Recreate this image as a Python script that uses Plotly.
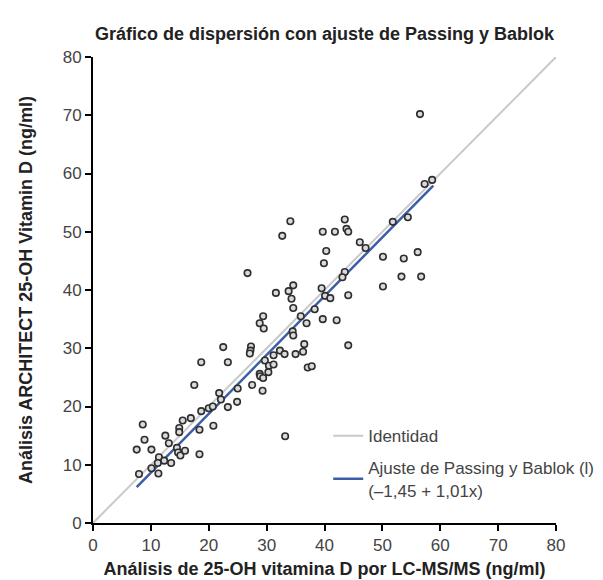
import plotly.graph_objects as go

# Measured data: LC-MS/MS (x) vs ARCHITECT (y), ng/ml
lcms = [18.7, 17.5, 8.6, 8.9, 7.55, 10.1, 12.5, 13.1, 15.5, 16.9, 14.9, 14.9, 18.7, 18.4, 18.4,
        20.0, 20.7, 20.8, 7.95, 10.1, 11.3, 11.4, 11.2, 12.3, 13.5, 14.5, 14.7, 15.1, 15.9,
        32.7, 26.7, 31.6, 33.8, 34.6, 34.3, 34.6, 29.4, 28.8, 29.5, 35.9, 36.9, 34.5, 34.6,
        36.5, 36.3, 35.0, 32.3, 33.1, 31.2, 37.1, 37.8, 27.3, 27.2, 27.1, 22.5, 23.3, 29.7,
        30.4, 31.2, 30.3, 28.8, 28.9, 29.4, 27.5, 29.3, 25.0, 24.9, 21.8, 22.1, 23.3, 33.2,
        34.1, 39.7, 41.8, 43.5, 43.8, 44.1, 46.1, 47.1, 40.3, 39.9,
        57.3, 58.6, 51.8, 54.4, 50.1, 53.7, 56.1, 53.3, 56.7, 50.1, 43.5, 43.1, 39.5, 40.1,
        41.0, 44.1, 38.3, 39.7, 42.1, 44.1, 56.5]
architect = [27.6, 23.7, 16.9, 14.3, 12.6, 12.6, 15.0, 13.7, 17.6, 18.0, 16.3, 15.6, 19.2, 16.0, 11.8,
             19.7, 20.0, 16.7, 8.4, 9.4, 8.5, 11.3, 10.3, 10.7, 10.3, 12.9, 12.1, 11.6, 12.4,
             49.3, 42.9, 39.5, 39.8, 40.8, 38.5, 36.9, 35.5, 34.3, 33.4, 35.5, 34.3, 32.9, 32.2,
             30.7, 29.4, 29.0, 29.6, 29.0, 28.8, 26.7, 26.9, 30.3, 29.6, 29.1, 30.2, 27.6, 27.9,
             27.0, 27.2, 25.9, 25.6, 25.2, 24.9, 23.7, 22.7, 23.1, 20.8, 22.3, 21.2, 19.9, 14.9,
             51.8, 50.0, 50.0, 52.1, 50.5, 50.0, 48.2, 47.2, 46.7, 44.6,
             58.2, 58.9, 51.7, 52.5, 45.7, 45.4, 46.5, 42.3, 42.3, 40.6, 43.1, 42.2, 40.3, 39.0,
             38.6, 39.1, 36.7, 35.0, 34.8, 30.5, 70.2]

identity_x = [0, 80]
identity_y = [0, 80]

fit_intercept = -1.45
fit_slope = 1.01
fit_x = [7.55, 58.8]
fit_y = [fit_intercept + fit_slope * v for v in fit_x]

tick_vals = [0, 10, 20, 30, 40, 50, 60, 70, 80]

FONT = "Liberation Sans, Arial, Helvetica, sans-serif"

fig = go.Figure()
fig.add_trace(go.Scatter(x=identity_x, y=identity_y, mode="lines", name="Identidad",
                         legendgroup="a",
                         line=dict(color="#c9c9c9", width=2)))
fig.add_trace(go.Scatter(x=fit_x, y=fit_y, mode="lines",
                         name="Ajuste de Passing y Bablok (l)<br>(–1,45 + 1,01x)",
                         legendgroup="b",
                         line=dict(color="#3d5da8", width=2.5)))
fig.add_trace(go.Scatter(x=lcms, y=architect, mode="markers", showlegend=False,
                         marker=dict(size=6.5, color="#dadada",
                                     line=dict(color="#2e2e2e", width=1.6))))

axis_common = dict(range=[0, 80], tickvals=tick_vals, showgrid=False, zeroline=False,
                   showline=True, linecolor="black", linewidth=2, automargin=False,
                   ticks="outside", ticklen=6, tickwidth=2, tickcolor="black",
                   tickfont=dict(family=FONT, size=17, color="#444444"))

fig.update_layout(
    width=603, height=580,
    margin=dict(l=85, r=52, t=49, b=65),
    paper_bgcolor="white", plot_bgcolor="white",
    title=dict(text="<b>Gráfico de dispersión con ajuste de Passing y Bablok</b>",
               x=0.5, xref="paper", xanchor="center", y=0.955, yanchor="middle",
               font=dict(family=FONT, size=18, color="#222222")),
    xaxis=dict(**axis_common,
               title=dict(text="<b>Análisis de 25-OH vitamina D por LC-MS/MS (ng/ml)</b>",
                          font=dict(family=FONT, size=18, color="#222222"), standoff=8)),
    yaxis=dict(**axis_common,
               title=dict(text="<b>Análisis ARCHITECT 25-OH Vitamin D (ng/ml)</b>",
                          font=dict(family=FONT, size=18, color="#222222"), standoff=25)),
    legend=dict(x=0.508, y=0.225, xanchor="left", yanchor="top", traceorder="grouped",
                bgcolor="rgba(0,0,0,0)", font=dict(family=FONT, size=17, color="#444444"),
                tracegroupgap=7),
    showlegend=True,
)

fig.write_html("out.html")
